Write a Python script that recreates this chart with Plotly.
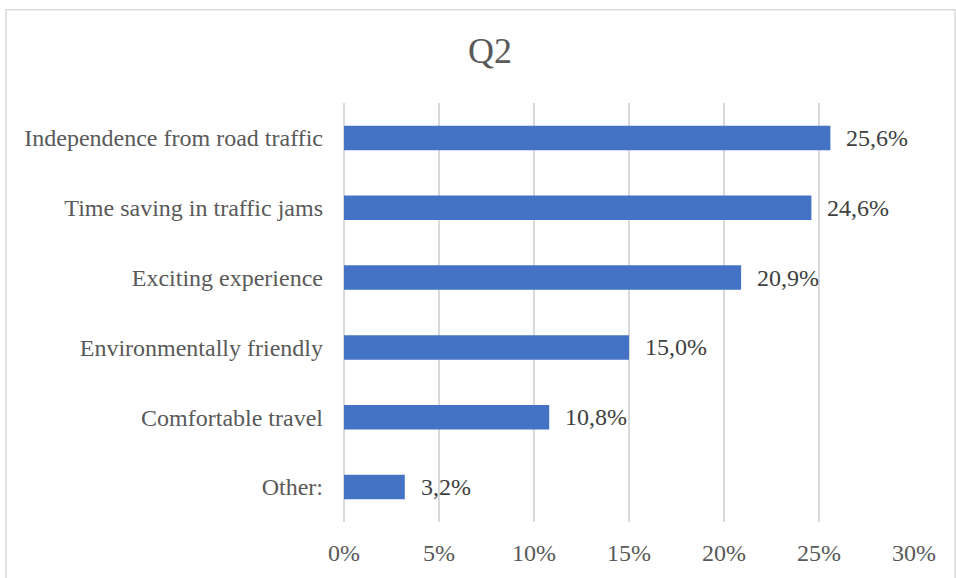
import plotly.graph_objects as go

# Survey answers (bottom to top as drawn)
categories = ["Other:", "Comfortable travel", "Environmentally friendly",
              "Exciting experience", "Time saving in traffic jams",
              "Independence from road traffic"]
shares = [3.2, 10.8, 15.0, 20.9, 24.6, 25.6]
tick_values = [0, 5, 10, 15, 20, 25, 30]
tick_labels = ["0%", "5%", "10%", "15%", "20%", "25%", "30%"]

FONT = "Liberation Serif, Times New Roman, serif"
GRAY = "#595959"

fig = go.Figure(
    go.Bar(
        x=shares,
        y=categories,
        orientation="h",
        marker=dict(color="#4472C4", line=dict(width=0)),
        width=0.35,
        hoverinfo="x+y",
    )
)

# value labels to the right of each bar, decimal comma
for cat, val in zip(categories, shares):
    fig.add_annotation(
        x=val, y=cat, xref="x", yref="y",
        text=f"{val:.1f}%".replace(".", ","),
        showarrow=False, xanchor="left", yanchor="middle",
        xshift=14,
        font=dict(family=FONT, size=24, color="#404040"),
    )

# light chart border
fig.add_shape(
    type="rect", xref="paper", yref="paper",
    x0=-0.593, x1=1.072, y0=-0.14, y1=1.2227,
    line=dict(color="#D9D9D9", width=1.5), fillcolor="rgba(0,0,0,0)",
    layer="below",
)

fig.update_layout(
    width=956, height=578,
    margin=dict(l=344, r=42, t=103, b=53),
    paper_bgcolor="white", plot_bgcolor="white",
    showlegend=False,
    title=dict(
        text="Q2", x=490 / 956, xanchor="center", xref="container",
        y=1 - 50 / 578, yanchor="middle", yref="container",
        font=dict(family=FONT, size=36, color=GRAY),
    ),
    xaxis=dict(
        range=[0, 30], tickvals=tick_values, ticktext=tick_labels,
        showgrid=True, gridcolor="#D9D9D9", gridwidth=1.5,
        zeroline=True, zerolinecolor="#D9D9D9", zerolinewidth=1.5,
        showline=False, ticks="", ticklabelstandoff=14,
        tickfont=dict(family=FONT, size=24, color=GRAY),
        fixedrange=True,
    ),
    yaxis=dict(
        showgrid=False, zeroline=False, showline=False, ticks="",
        ticklabelstandoff=20,
        tickfont=dict(family=FONT, size=24, color=GRAY),
        fixedrange=True,
    ),
)

fig.write_html("out.html")
